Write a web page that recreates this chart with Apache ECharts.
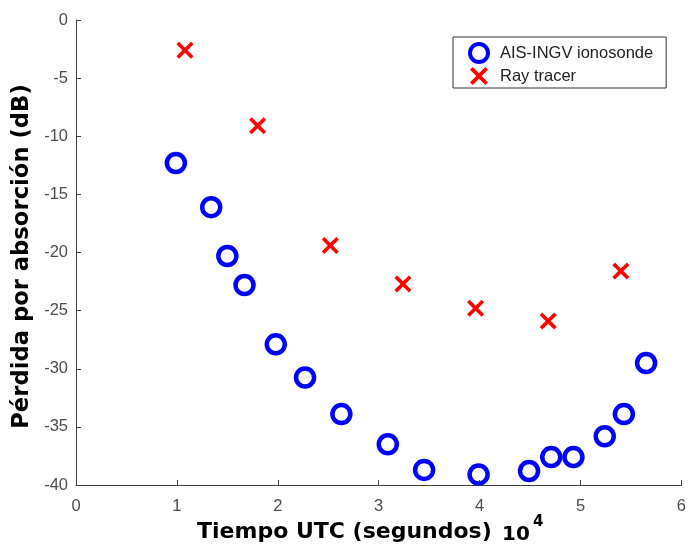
<!DOCTYPE html>
<html>
<head>
<meta charset="utf-8">
<script src="https://cdn.jsdelivr.net/npm/echarts@6/dist/echarts.min.js"></script>
<style>
  html, body { margin: 0; padding: 0; background: #fff; }
  #chart { width: 689px; height: 550px; }
</style>
</head>
<body>
<div id="chart"></div>
<script>
// Absorption loss over the day: ionosonde measurements vs. ray-tracer estimates
// Time in units of 10^4 seconds UTC, loss in dB
const ionosondeTime = [0.99, 1.34, 1.50, 1.67, 1.98, 2.27, 2.63, 3.09, 3.45, 3.99, 4.49, 4.71, 4.93, 5.24, 5.43, 5.65];
const ionosondeLoss = [-12.3, -16.1, -20.3, -22.8, -27.9, -30.75, -33.9, -36.5, -38.7, -39.1, -38.8, -37.6, -37.6, -35.8, -33.9, -29.5];

const rayTime = [1.08, 1.80, 2.52, 3.24, 3.96, 4.68, 5.40];
const rayLoss = [-2.6, -9.1, -19.4, -22.7, -24.8, -25.9, -21.6];

const xTicks = [0, 1, 2, 3, 4, 5, 6];
const yTicks = [-40, -35, -30, -25, -20, -15, -10, -5, 0];

const seriesNames = ['AIS-INGV ionosonde', 'Ray tracer'];

const toPairs = (xs, ys) => xs.map((x, i) => [x, ys[i]]);

// thick "x" marker outline
const crossPath = 'path://M0,15L15,0L50,35L85,0L100,15L65,50L100,85L85,100L50,65L15,100L0,85L35,50Z';

const axisColor = '#404040';
const labelColor = '#4d4d4d';

const ringStyle = { color: 'rgba(255,255,255,0)', borderColor: '#0000ff', borderWidth: 4.5, opacity: 1 };
const crossStyle = { color: '#ff0000', opacity: 1 };

const chart = echarts.init(document.getElementById('chart'), null, { renderer: 'canvas' });

chart.setOption({
  animation: false,
  backgroundColor: '#ffffff',
  grid: { left: 76, right: 7, top: 20, bottom: 65, containLabel: false },
  xAxis: {
    type: 'value',
    min: xTicks[0],
    max: xTicks[xTicks.length - 1],
    interval: 1,
    axisLine: { show: true, onZero: false, lineStyle: { color: axisColor, width: 1 } },
    axisTick: { show: true, inside: true, length: 5, lineStyle: { color: axisColor } },
    splitLine: { show: false },
    axisLabel: { color: labelColor, fontFamily: 'Liberation Sans', fontSize: 16.5, margin: 13 }
  },
  yAxis: {
    type: 'value',
    min: yTicks[0],
    max: yTicks[yTicks.length - 1],
    interval: 5,
    name: 'Pérdida por absorción (dB)',
    nameLocation: 'middle',
    nameGap: 31,
    nameTextStyle: { fontFamily: 'DejaVu Sans', fontWeight: 'bold', fontSize: 22.7, color: '#000', padding: [0, 8, 0, 0] },
    axisLine: { show: true, onZero: false, lineStyle: { color: axisColor, width: 1 } },
    axisTick: { show: true, inside: true, length: 5, lineStyle: { color: axisColor } },
    splitLine: { show: false },
    axisLabel: { color: labelColor, fontFamily: 'Liberation Sans', fontSize: 16.5, margin: 8 }
  },
  legend: {
    data: [
      { name: seriesNames[0], itemStyle: { borderWidth: 4 } },
      { name: seriesNames[1] }
    ],
    orient: 'vertical',
    left: 453,
    top: 37,
    padding: [5, 13, 3, 15],
    itemGap: 3,
    itemWidth: 32,
    itemHeight: 18,
    borderColor: '#333',
    borderWidth: 1,
    backgroundColor: '#fff',
    textStyle: { fontFamily: 'Liberation Sans', fontSize: 16.5, color: '#222' }
  },
  graphic: [
    {
      type: 'text',
      style: { x: 197, y: 532, verticalAlign: 'middle', text: 'Tiempo UTC (segundos)', font: 'bold 22px "DejaVu Sans"', fill: '#000' }
    },
    {
      type: 'text',
      style: { x: 502, y: 535, verticalAlign: 'middle', text: '10', font: 'bold 20px "DejaVu Sans"', fill: '#000' }
    },
    {
      type: 'text',
      style: { x: 533, y: 522.5, verticalAlign: 'middle', text: '4', font: 'bold 15px "DejaVu Sans"', fill: '#000' }
    }
  ],
  series: [
    {
      name: seriesNames[0],
      type: 'scatter',
      data: toPairs(ionosondeTime, ionosondeLoss),
      symbol: 'circle',
      symbolSize: 18,
      itemStyle: ringStyle,
      z: 3
    },
    {
      name: seriesNames[1],
      type: 'scatter',
      data: toPairs(rayTime, rayLoss),
      symbol: crossPath,
      symbolSize: 17,
      itemStyle: crossStyle,
      z: 4
    }
  ]
});
</script>
</body>
</html>
